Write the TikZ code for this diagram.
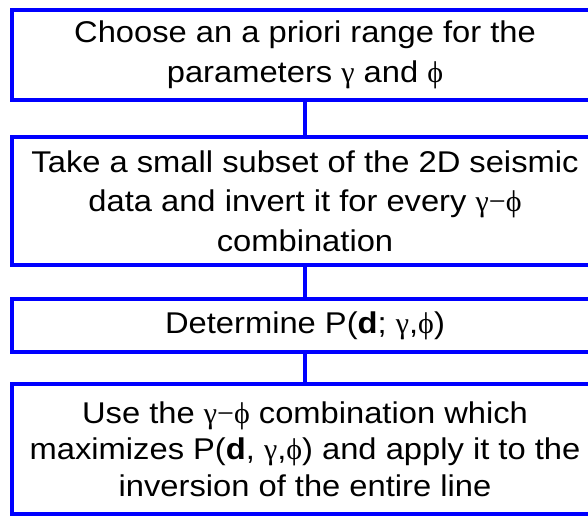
\documentclass[tikz,border=0pt]{standalone}
\usepackage{fontspec}
\setmainfont[FakeStretch=1.09]{Liberation Sans}
\newfontfamily\grk{Liberation Serif}
\newcommand{\mygam}{{\grk γ}}
\newcommand{\myphi}{{\grk ϕ}}
\newcommand{\mygmf}{{\grk γ−ϕ}}
\definecolor{boxblue}{RGB}{0,0,255}
\begin{document}
\begin{tikzpicture}[x=1pt,y=1pt,
  stepbox/.style={draw=boxblue,line width=4pt,minimum width=586pt,align=center,
    font=\fontsize{30}{39.5}\selectfont,inner sep=0pt,anchor=north},
  link/.style={draw=boxblue,line width=4pt}]
\useasboundingbox (0,0) rectangle (588,515);
\node[stepbox,minimum height=90pt] (b1) at (305,507) {Choose an a priori range for the\\parameters \mygam\ and \myphi};
\node[stepbox,minimum height=128pt] (b2) at (305,380) {Take a small subset of the 2D seismic\\data and invert it for every \mygmf\\combination};
\node[stepbox,minimum height=53pt] (b3) at (305,218) {Determine P(\textbf{d}; \mygam,\myphi)};
\node[stepbox,minimum height=130pt,font=\fontsize{30}{36.5}\selectfont] (b4) at (305,133) {Use the \mygmf\ combination which\\maximizes P(\textbf{d}, \mygam,\myphi) and apply it to the\\inversion of the entire line};
\draw[link] (b1.south) -- (b2.north);
\draw[link] (b2.south) -- (b3.north);
\draw[link] (b3.south) -- (b4.north);
\end{tikzpicture}
\end{document}
